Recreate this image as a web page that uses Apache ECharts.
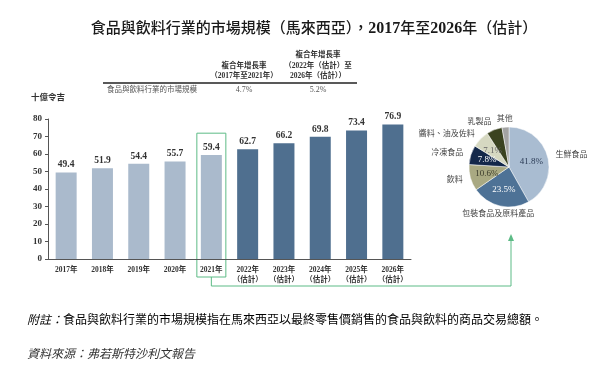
<!DOCTYPE html>
<html><head><meta charset="utf-8">
<script src="https://cdn.jsdelivr.net/npm/echarts@6/dist/echarts.min.js"></script>
<style>html,body{margin:0;padding:0;background:#fff}#c{width:600px;height:374px}</style>
</head><body><div id="c"></div>
<script>
// ---- data ----
const years = ['2017年','2018年','2019年','2020年','2021年','2022年\n（估計）','2023年\n（估計）','2024年\n（估計）','2025年\n（估計）','2026年\n（估計）'];
const marketSize = [49.4, 51.9, 54.4, 55.7, 59.4, 62.7, 66.2, 69.8, 73.4, 76.9];
const firstForecastIndex = 5;
const highlightIndex = 4;
const yTicks = {min: 0, max: 80, interval: 10};
const pieNames = ['生鮮食品','包裝食品及原料產品','飲料','冷凍食品','醬料、油及佐料','乳製品','其他'];
const pieValues = [41.8, 23.5, 10.6, 7.8, 7.1, 6.3, 2.8];
const cagrRowLabel = '食品與飲料行業的市場規模';
const cagrValues = ['4.7%', '5.2%'];

// ---- styles ----
const SERIF = '"Liberation Serif","Noto Sans CJK TC",serif';
const CJK = '"Liberation Serif","Noto Sans CJK TC",sans-serif';
const lightBar = '#AABACC';
const darkBar = '#4F6F8F';
const green = '#5DBB86';
const pieColors = ['#A9BCD1','#4E7296','#A9A982','#14284A','#D6D8C1','#3B4320','#A3A3A3'];
const pieLabelColors = ['#2b3b55','#ffffff','#3a3a2a','#ffffff','#666666','#e8e8e0','#ffffff'];

const chart = echarts.init(document.getElementById('c'), null, {renderer:'canvas'});
const pieCenter = [509, 167];
const pieRadius = 40;
const nameOffset = 8;

// mid angle (clockwise from 12 o'clock) of each slice, from the data
const pieTotal = pieValues.reduce((a, b) => a + b, 0);
const midAngles = [];
{ let acc = 0; pieValues.forEach(v => { midAngles.push((acc + v / 2) / pieTotal * 2 * Math.PI); acc += v; }); }

const option = {
  animation: false,
  backgroundColor: '#fff',
  title: {
    text: '{a|食品與飲料行業的市場規模（馬來西亞），}{b|2017}{a|年至}{b|2026}{a|年（估計）}',
    left: 309, top: 16, textAlign: 'center',
    textStyle: { rich: {
      a: {fontFamily: CJK, fontSize: 15, color: '#1a1a1a', fontWeight: 500},
      b: {fontFamily: SERIF, fontSize: 16, color: '#1a1a1a', fontWeight: 'bold'}
    }}
  },
  grid: {left: 48, right: 189, top: 119, bottom: 115, containLabel: false},
  xAxis: {
    type: 'category', data: years,
    axisLine: {lineStyle: {color: '#555', width: 1}},
    axisTick: {show: false},
    axisLabel: {fontFamily: CJK, fontSize: 7.5, fontWeight: 'bold', color: '#333', margin: 6, lineHeight: 10, interval: 0}
  },
  yAxis: {
    type: 'value', min: yTicks.min, max: yTicks.max, interval: yTicks.interval,
    name: '十億令吉', nameLocation: 'end', nameGap: 17,
    nameTextStyle: {fontFamily: CJK, fontSize: 8.5, fontWeight: 'bold', color: '#333', align: 'center'},
    axisLine: {show: true, lineStyle: {color: '#555', width: 1}},
    axisTick: {show: true, length: 3, lineStyle: {color: '#555'}},
    splitLine: {show: false},
    axisLabel: {fontFamily: SERIF, fontSize: 9, fontWeight: 'bold', color: '#333', margin: 6}
  },
  series: [
    {
      type: 'bar', data: marketSize, barWidth: 21,
      itemStyle: {color: p => p.dataIndex >= firstForecastIndex ? darkBar : lightBar},
      label: {show: true, position: 'top', distance: 3, fontFamily: SERIF, fontSize: 9.5, fontWeight: 'bold', color: '#333',
        formatter: p => p.value.toFixed(1)}
    },
    {
      type: 'pie', center: pieCenter, radius: [0, pieRadius], startAngle: 90, clockwise: true,
      data: pieValues.map((v, i) => ({name: pieNames[i], value: v,
        itemStyle: {color: pieColors[i]},
        label: {color: pieLabelColors[i]}})),
      itemStyle: {borderColor: '#fff', borderWidth: 0.5},
      label: {show: true, position: 'inside', fontFamily: SERIF, fontSize: 9,
        formatter: p => p.value.toFixed(1) + '%'},
      labelLine: {show: false}
    },
    {
      type: 'pie', center: pieCenter, radius: [0, pieRadius], startAngle: 90, clockwise: true, silent: true,
      avoidLabelOverlap: false,
      data: pieValues.map((v, i) => ({name: pieNames[i], value: v})),
      itemStyle: {color: 'rgba(0,0,0,0)'},
      label: {show: true, position: 'outside', fontFamily: CJK, fontSize: 8, color: '#444', formatter: '{b}'},
      labelLine: {show: false, length: 3, length2: 0},
      labelLayout: p => {
        const a = midAngles[p.dataIndex];
        const s = Math.sin(a), c = Math.cos(a);
        const d = pieRadius + nameOffset;
        return {
          x: pieCenter[0] + d * s,
          y: pieCenter[1] - d * c,
          align: s < -0.3 ? 'right' : (s > 0.5 ? 'left' : 'center'),
          verticalAlign: 'middle'
        };
      }
    }
  ]
};
chart.setOption(option);

// ---- annotation graphics (derived from axis positions) ----
const band = chart.convertToPixel({gridIndex: 0}, [highlightIndex, 0]);
const topPt = chart.convertToPixel({gridIndex: 0}, [highlightIndex, marketSize[highlightIndex] + 12.5]);
const cx = band[0];
const boxTop = topPt[1];
const boxBottom = band[1] + 18;
const connY = boxBottom + 9;
const arrowX = pieCenter[0] + 2;
const arrowY = pieCenter[1] + pieRadius + 30;

// table positions
const tL = 103, tR = 357, tLine = 83;
const col1 = 244, col2 = 318;
const hdr = {fontFamily: CJK, fontSize: 7.5, fontWeight: 'bold', fill: '#333', textAlign: 'center', textVerticalAlign: 'middle'};
function txt(x, y, t, st) { return {type: 'text', x: x, y: y, style: Object.assign({text: t}, st)}; }

chart.setOption({
  graphic: [
    {type: 'rect', shape: {x: cx - 14.5, y: boxTop, width: 29, height: boxBottom - boxTop}, style: {fill: 'none', stroke: green, lineWidth: 1}},
    {type: 'polyline', shape: {points: [[cx, boxBottom], [cx, connY], [arrowX, connY], [arrowX, arrowY + 3]]}, style: {fill: 'none', stroke: green, lineWidth: 1}},
    {type: 'polygon', shape: {points: [[arrowX, arrowY - 3], [arrowX - 3, arrowY + 4], [arrowX + 3, arrowY + 4]]}, style: {fill: green}},
    {type: 'line', shape: {x1: tL, y1: tLine, x2: tR, y2: tLine}, style: {stroke: '#222', lineWidth: 1.5}},
    txt(col1, 66, '複合年增長率', hdr),
    txt(col1, 76, '（2017年至2021年）', hdr),
    txt(col2, 55, '複合年增長率', hdr),
    txt(col2, 66, '（2022年（估計）至', hdr),
    txt(col2, 76, '2026年（估計））', hdr),
    txt(107, 90, cagrRowLabel, {fontFamily: CJK, fontSize: 7.5, fill: '#555', textAlign: 'left', textVerticalAlign: 'middle'}),
    txt(col1, 90, cagrValues[0], {fontFamily: SERIF, fontSize: 8, fill: '#555', textAlign: 'center', textVerticalAlign: 'middle'}),
    txt(col2, 90, cagrValues[1], {fontFamily: SERIF, fontSize: 8, fill: '#555', textAlign: 'center', textVerticalAlign: 'middle'}),
    {type: 'text', x: 27, y: 321, style: {
      text: '{i|附註：}{n|食品與飲料行業的市場規模指在馬來西亞以最終零售價銷售的食品與飲料的商品交易總額。}',
      textVerticalAlign: 'middle',
      rich: {
        i: {fontFamily: CJK, fontSize: 12, fontStyle: 'italic', color: '#333'},
        n: {fontFamily: CJK, fontSize: 12, color: '#333'}
      }}},
    {type: 'text', x: 27, y: 355, style: {text: '資料來源：弗若斯特沙利文報告', fontFamily: CJK, fontSize: 12, fontStyle: 'italic', fill: '#333', textVerticalAlign: 'middle'}}
  ]
});
</script></body></html>
